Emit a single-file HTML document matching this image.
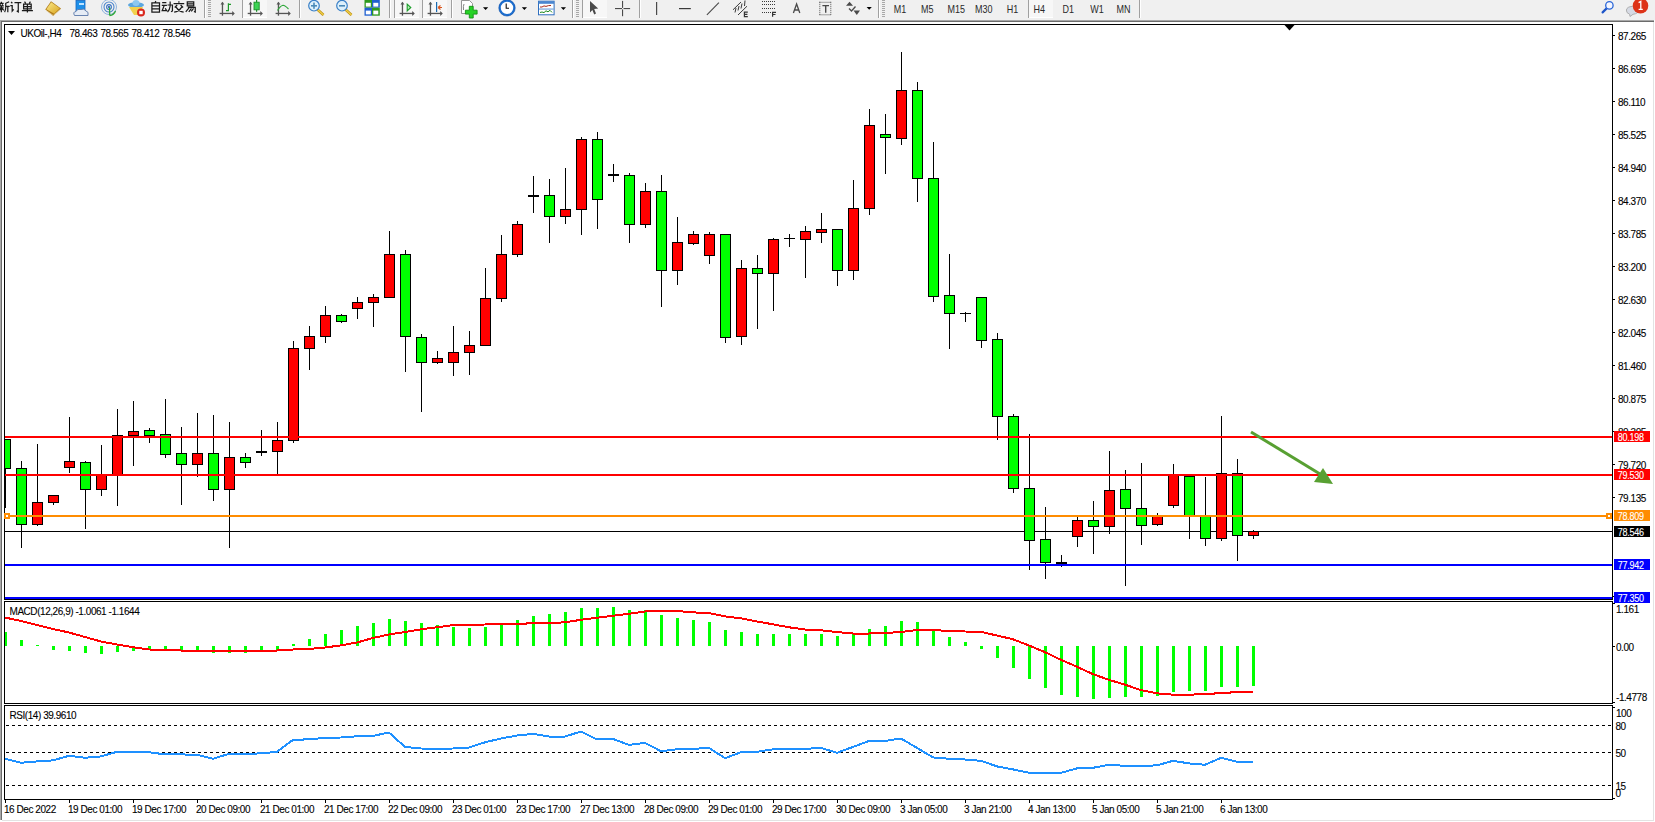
<!DOCTYPE html>
<html><head><meta charset="utf-8"><style>
html,body{margin:0;padding:0;width:1655px;height:822px;overflow:hidden;background:#FFFFFF;font-family:"Liberation Sans",sans-serif;}
#wrap{position:relative;width:1655px;height:822px;}
svg{position:absolute;left:0;top:0}
.t{position:absolute;white-space:nowrap;line-height:9px;font-size:9px;letter-spacing:-0.45px;margin-top:0px;transform:scaleY(1.12);transform-origin:0 0;-webkit-text-stroke:0.1px currentColor}
.box{position:absolute;left:1614px;width:36px;height:11px;color:#FFF;font-size:9px;line-height:9px;letter-spacing:-0.25px}
.box span{position:absolute;left:3.8px;top:2px;transform:scaleY(1.12);transform-origin:0 0;-webkit-text-stroke:0.1px #FFF}
</style></head><body><div id="wrap">
<svg width="1655" height="822" viewBox="0 0 1655 822">
<rect x="0" y="0" width="1655" height="20" fill="#F0F0F0"/>
<rect x="0" y="20" width="1654" height="1" fill="#A8A8A8"/>
<rect x="1" y="21" width="1653" height="1" fill="#6B6B6B"/>
<rect x="0" y="21" width="1" height="799" fill="#A8A8A8"/>
<rect x="1" y="22" width="1" height="798" fill="#6B6B6B"/>
<rect x="1653" y="22" width="1" height="799" fill="#E3E3E3"/>
<rect x="2" y="820" width="1652" height="1" fill="#E3E3E3"/>
<rect x="0" y="821" width="1655" height="1" fill="#FFFFFF"/>
<rect x="2" y="22" width="1651" height="798" fill="#FFFFFF"/>
<defs><clipPath id="cm"><rect x="5" y="25" width="1607" height="574"/></clipPath><clipPath id="cmacd"><rect x="5" y="602" width="1607" height="101"/></clipPath><clipPath id="crsi"><rect x="5" y="706" width="1607" height="93"/></clipPath></defs>
<g clip-path="url(#cm)">
<rect x="5" y="531" width="1607" height="1" fill="#000000"/>
<rect x="5" y="439" width="1" height="69" fill="#000"/>
<rect x="0" y="439" width="11" height="30" fill="#000"/>
<rect x="1" y="440" width="9" height="28" fill="#00FF00"/>
<rect x="21" y="461" width="1" height="87" fill="#000"/>
<rect x="16" y="468" width="11" height="57" fill="#000"/>
<rect x="17" y="469" width="9" height="55" fill="#00FF00"/>
<rect x="37" y="444" width="1" height="82" fill="#000"/>
<rect x="32" y="502" width="11" height="23" fill="#000"/>
<rect x="33" y="503" width="9" height="21" fill="#FF0000"/>
<rect x="53" y="495" width="1" height="10" fill="#000"/>
<rect x="48" y="495" width="11" height="8" fill="#000"/>
<rect x="49" y="496" width="9" height="6" fill="#FF0000"/>
<rect x="69" y="417" width="1" height="56" fill="#000"/>
<rect x="64" y="461" width="11" height="7" fill="#000"/>
<rect x="65" y="462" width="9" height="5" fill="#FF0000"/>
<rect x="85" y="461" width="1" height="68" fill="#000"/>
<rect x="80" y="462" width="11" height="28" fill="#000"/>
<rect x="81" y="463" width="9" height="26" fill="#00FF00"/>
<rect x="101" y="445" width="1" height="51" fill="#000"/>
<rect x="96" y="474" width="11" height="16" fill="#000"/>
<rect x="97" y="475" width="9" height="14" fill="#FF0000"/>
<rect x="117" y="409" width="1" height="97" fill="#000"/>
<rect x="112" y="435" width="11" height="40" fill="#000"/>
<rect x="113" y="436" width="9" height="38" fill="#FF0000"/>
<rect x="133" y="401" width="1" height="65" fill="#000"/>
<rect x="128" y="431" width="11" height="5" fill="#000"/>
<rect x="129" y="432" width="9" height="3" fill="#FF0000"/>
<rect x="149" y="428" width="1" height="15" fill="#000"/>
<rect x="144" y="430" width="11" height="6" fill="#000"/>
<rect x="145" y="431" width="9" height="4" fill="#00FF00"/>
<rect x="165" y="399" width="1" height="59" fill="#000"/>
<rect x="160" y="434" width="11" height="21" fill="#000"/>
<rect x="161" y="435" width="9" height="19" fill="#00FF00"/>
<rect x="181" y="427" width="1" height="78" fill="#000"/>
<rect x="176" y="453" width="11" height="12" fill="#000"/>
<rect x="177" y="454" width="9" height="10" fill="#00FF00"/>
<rect x="197" y="413" width="1" height="64" fill="#000"/>
<rect x="192" y="453" width="11" height="12" fill="#000"/>
<rect x="193" y="454" width="9" height="10" fill="#FF0000"/>
<rect x="213" y="415" width="1" height="86" fill="#000"/>
<rect x="208" y="453" width="11" height="37" fill="#000"/>
<rect x="209" y="454" width="9" height="35" fill="#00FF00"/>
<rect x="229" y="422" width="1" height="126" fill="#000"/>
<rect x="224" y="457" width="11" height="33" fill="#000"/>
<rect x="225" y="458" width="9" height="31" fill="#FF0000"/>
<rect x="245" y="453" width="1" height="15" fill="#000"/>
<rect x="240" y="457" width="11" height="6" fill="#000"/>
<rect x="241" y="458" width="9" height="4" fill="#00FF00"/>
<rect x="261" y="430" width="1" height="26" fill="#000"/>
<rect x="256" y="451" width="11" height="2" fill="#000"/>
<rect x="277" y="422" width="1" height="52" fill="#000"/>
<rect x="272" y="440" width="11" height="12" fill="#000"/>
<rect x="273" y="441" width="9" height="10" fill="#FF0000"/>
<rect x="293" y="341" width="1" height="102" fill="#000"/>
<rect x="288" y="348" width="11" height="93" fill="#000"/>
<rect x="289" y="349" width="9" height="91" fill="#FF0000"/>
<rect x="309" y="326" width="1" height="44" fill="#000"/>
<rect x="304" y="336" width="11" height="13" fill="#000"/>
<rect x="305" y="337" width="9" height="11" fill="#FF0000"/>
<rect x="325" y="306" width="1" height="37" fill="#000"/>
<rect x="320" y="315" width="11" height="22" fill="#000"/>
<rect x="321" y="316" width="9" height="20" fill="#FF0000"/>
<rect x="341" y="314" width="1" height="9" fill="#000"/>
<rect x="336" y="315" width="11" height="7" fill="#000"/>
<rect x="337" y="316" width="9" height="5" fill="#00FF00"/>
<rect x="357" y="297" width="1" height="22" fill="#000"/>
<rect x="352" y="302" width="11" height="7" fill="#000"/>
<rect x="353" y="303" width="9" height="5" fill="#FF0000"/>
<rect x="373" y="294" width="1" height="33" fill="#000"/>
<rect x="368" y="297" width="11" height="6" fill="#000"/>
<rect x="369" y="298" width="9" height="4" fill="#FF0000"/>
<rect x="389" y="231" width="1" height="67" fill="#000"/>
<rect x="384" y="254" width="11" height="44" fill="#000"/>
<rect x="385" y="255" width="9" height="42" fill="#FF0000"/>
<rect x="405" y="250" width="1" height="122" fill="#000"/>
<rect x="400" y="254" width="11" height="83" fill="#000"/>
<rect x="401" y="255" width="9" height="81" fill="#00FF00"/>
<rect x="421" y="334" width="1" height="78" fill="#000"/>
<rect x="416" y="337" width="11" height="26" fill="#000"/>
<rect x="417" y="338" width="9" height="24" fill="#00FF00"/>
<rect x="437" y="351" width="1" height="13" fill="#000"/>
<rect x="432" y="358" width="11" height="5" fill="#000"/>
<rect x="433" y="359" width="9" height="3" fill="#FF0000"/>
<rect x="453" y="326" width="1" height="50" fill="#000"/>
<rect x="448" y="352" width="11" height="11" fill="#000"/>
<rect x="449" y="353" width="9" height="9" fill="#FF0000"/>
<rect x="469" y="331" width="1" height="44" fill="#000"/>
<rect x="464" y="345" width="11" height="8" fill="#000"/>
<rect x="465" y="346" width="9" height="6" fill="#FF0000"/>
<rect x="485" y="268" width="1" height="78" fill="#000"/>
<rect x="480" y="298" width="11" height="48" fill="#000"/>
<rect x="481" y="299" width="9" height="46" fill="#FF0000"/>
<rect x="501" y="235" width="1" height="67" fill="#000"/>
<rect x="496" y="254" width="11" height="45" fill="#000"/>
<rect x="497" y="255" width="9" height="43" fill="#FF0000"/>
<rect x="517" y="221" width="1" height="36" fill="#000"/>
<rect x="512" y="224" width="11" height="31" fill="#000"/>
<rect x="513" y="225" width="9" height="29" fill="#FF0000"/>
<rect x="533" y="176" width="1" height="37" fill="#000"/>
<rect x="528" y="195" width="11" height="2" fill="#000"/>
<rect x="549" y="179" width="1" height="64" fill="#000"/>
<rect x="544" y="195" width="11" height="22" fill="#000"/>
<rect x="545" y="196" width="9" height="20" fill="#00FF00"/>
<rect x="565" y="168" width="1" height="56" fill="#000"/>
<rect x="560" y="209" width="11" height="8" fill="#000"/>
<rect x="561" y="210" width="9" height="6" fill="#FF0000"/>
<rect x="581" y="137" width="1" height="98" fill="#000"/>
<rect x="576" y="139" width="11" height="71" fill="#000"/>
<rect x="577" y="140" width="9" height="69" fill="#FF0000"/>
<rect x="597" y="132" width="1" height="97" fill="#000"/>
<rect x="592" y="139" width="11" height="61" fill="#000"/>
<rect x="593" y="140" width="9" height="59" fill="#00FF00"/>
<rect x="613" y="164" width="1" height="18" fill="#000"/>
<rect x="608" y="174" width="11" height="2" fill="#000"/>
<rect x="629" y="173" width="1" height="70" fill="#000"/>
<rect x="624" y="175" width="11" height="50" fill="#000"/>
<rect x="625" y="176" width="9" height="48" fill="#00FF00"/>
<rect x="645" y="183" width="1" height="45" fill="#000"/>
<rect x="640" y="191" width="11" height="34" fill="#000"/>
<rect x="641" y="192" width="9" height="32" fill="#FF0000"/>
<rect x="661" y="175" width="1" height="132" fill="#000"/>
<rect x="656" y="191" width="11" height="80" fill="#000"/>
<rect x="657" y="192" width="9" height="78" fill="#00FF00"/>
<rect x="677" y="217" width="1" height="68" fill="#000"/>
<rect x="672" y="242" width="11" height="29" fill="#000"/>
<rect x="673" y="243" width="9" height="27" fill="#FF0000"/>
<rect x="693" y="231" width="1" height="14" fill="#000"/>
<rect x="688" y="234" width="11" height="10" fill="#000"/>
<rect x="689" y="235" width="9" height="8" fill="#FF0000"/>
<rect x="709" y="232" width="1" height="32" fill="#000"/>
<rect x="704" y="234" width="11" height="22" fill="#000"/>
<rect x="705" y="235" width="9" height="20" fill="#FF0000"/>
<rect x="725" y="234" width="1" height="109" fill="#000"/>
<rect x="720" y="234" width="11" height="104" fill="#000"/>
<rect x="721" y="235" width="9" height="102" fill="#00FF00"/>
<rect x="741" y="260" width="1" height="85" fill="#000"/>
<rect x="736" y="268" width="11" height="69" fill="#000"/>
<rect x="737" y="269" width="9" height="67" fill="#FF0000"/>
<rect x="757" y="255" width="1" height="74" fill="#000"/>
<rect x="752" y="268" width="11" height="6" fill="#000"/>
<rect x="753" y="269" width="9" height="4" fill="#00FF00"/>
<rect x="773" y="238" width="1" height="73" fill="#000"/>
<rect x="768" y="239" width="11" height="35" fill="#000"/>
<rect x="769" y="240" width="9" height="33" fill="#FF0000"/>
<rect x="789" y="234" width="1" height="13" fill="#000"/>
<rect x="784" y="238" width="11" height="1" fill="#000"/>
<rect x="805" y="226" width="1" height="52" fill="#000"/>
<rect x="800" y="231" width="11" height="9" fill="#000"/>
<rect x="801" y="232" width="9" height="7" fill="#FF0000"/>
<rect x="821" y="213" width="1" height="30" fill="#000"/>
<rect x="816" y="229" width="11" height="4" fill="#000"/>
<rect x="817" y="230" width="9" height="2" fill="#FF0000"/>
<rect x="837" y="229" width="1" height="57" fill="#000"/>
<rect x="832" y="229" width="11" height="42" fill="#000"/>
<rect x="833" y="230" width="9" height="40" fill="#00FF00"/>
<rect x="853" y="180" width="1" height="100" fill="#000"/>
<rect x="848" y="208" width="11" height="63" fill="#000"/>
<rect x="849" y="209" width="9" height="61" fill="#FF0000"/>
<rect x="869" y="109" width="1" height="106" fill="#000"/>
<rect x="864" y="125" width="11" height="84" fill="#000"/>
<rect x="865" y="126" width="9" height="82" fill="#FF0000"/>
<rect x="885" y="114" width="1" height="60" fill="#000"/>
<rect x="880" y="134" width="11" height="4" fill="#000"/>
<rect x="881" y="135" width="9" height="2" fill="#00FF00"/>
<rect x="901" y="52" width="1" height="93" fill="#000"/>
<rect x="896" y="90" width="11" height="49" fill="#000"/>
<rect x="897" y="91" width="9" height="47" fill="#FF0000"/>
<rect x="917" y="82" width="1" height="120" fill="#000"/>
<rect x="912" y="90" width="11" height="89" fill="#000"/>
<rect x="913" y="91" width="9" height="87" fill="#00FF00"/>
<rect x="933" y="142" width="1" height="160" fill="#000"/>
<rect x="928" y="178" width="11" height="119" fill="#000"/>
<rect x="929" y="179" width="9" height="117" fill="#00FF00"/>
<rect x="949" y="254" width="1" height="95" fill="#000"/>
<rect x="944" y="295" width="11" height="19" fill="#000"/>
<rect x="945" y="296" width="9" height="17" fill="#00FF00"/>
<rect x="965" y="312" width="1" height="10" fill="#000"/>
<rect x="960" y="313" width="11" height="1" fill="#000"/>
<rect x="981" y="297" width="1" height="51" fill="#000"/>
<rect x="976" y="297" width="11" height="44" fill="#000"/>
<rect x="977" y="298" width="9" height="42" fill="#00FF00"/>
<rect x="997" y="333" width="1" height="107" fill="#000"/>
<rect x="992" y="339" width="11" height="78" fill="#000"/>
<rect x="993" y="340" width="9" height="76" fill="#00FF00"/>
<rect x="1013" y="414" width="1" height="79" fill="#000"/>
<rect x="1008" y="416" width="11" height="73" fill="#000"/>
<rect x="1009" y="417" width="9" height="71" fill="#00FF00"/>
<rect x="1029" y="434" width="1" height="136" fill="#000"/>
<rect x="1024" y="488" width="11" height="53" fill="#000"/>
<rect x="1025" y="489" width="9" height="51" fill="#00FF00"/>
<rect x="1045" y="507" width="1" height="72" fill="#000"/>
<rect x="1040" y="539" width="11" height="24" fill="#000"/>
<rect x="1041" y="540" width="9" height="22" fill="#00FF00"/>
<rect x="1061" y="555" width="1" height="12" fill="#000"/>
<rect x="1056" y="562" width="11" height="2" fill="#000"/>
<rect x="1077" y="517" width="1" height="30" fill="#000"/>
<rect x="1072" y="520" width="11" height="17" fill="#000"/>
<rect x="1073" y="521" width="9" height="15" fill="#FF0000"/>
<rect x="1093" y="501" width="1" height="53" fill="#000"/>
<rect x="1088" y="520" width="11" height="7" fill="#000"/>
<rect x="1089" y="521" width="9" height="5" fill="#00FF00"/>
<rect x="1109" y="451" width="1" height="83" fill="#000"/>
<rect x="1104" y="490" width="11" height="37" fill="#000"/>
<rect x="1105" y="491" width="9" height="35" fill="#FF0000"/>
<rect x="1125" y="470" width="1" height="116" fill="#000"/>
<rect x="1120" y="489" width="11" height="20" fill="#000"/>
<rect x="1121" y="490" width="9" height="18" fill="#00FF00"/>
<rect x="1141" y="463" width="1" height="82" fill="#000"/>
<rect x="1136" y="508" width="11" height="18" fill="#000"/>
<rect x="1137" y="509" width="9" height="16" fill="#00FF00"/>
<rect x="1157" y="513" width="1" height="13" fill="#000"/>
<rect x="1152" y="516" width="11" height="9" fill="#000"/>
<rect x="1153" y="517" width="9" height="7" fill="#FF0000"/>
<rect x="1173" y="464" width="1" height="44" fill="#000"/>
<rect x="1168" y="474" width="11" height="32" fill="#000"/>
<rect x="1169" y="475" width="9" height="30" fill="#FF0000"/>
<rect x="1189" y="476" width="1" height="63" fill="#000"/>
<rect x="1184" y="476" width="11" height="40" fill="#000"/>
<rect x="1185" y="477" width="9" height="38" fill="#00FF00"/>
<rect x="1205" y="477" width="1" height="69" fill="#000"/>
<rect x="1200" y="516" width="11" height="23" fill="#000"/>
<rect x="1201" y="517" width="9" height="21" fill="#00FF00"/>
<rect x="1221" y="416" width="1" height="125" fill="#000"/>
<rect x="1216" y="473" width="11" height="66" fill="#000"/>
<rect x="1217" y="474" width="9" height="64" fill="#FF0000"/>
<rect x="1237" y="459" width="1" height="102" fill="#000"/>
<rect x="1232" y="473" width="11" height="63" fill="#000"/>
<rect x="1233" y="474" width="9" height="61" fill="#00FF00"/>
<rect x="1253" y="530" width="1" height="9" fill="#000"/>
<rect x="1248" y="531" width="11" height="5" fill="#000"/>
<rect x="1249" y="532" width="9" height="3" fill="#FF0000"/>
<rect x="5" y="436" width="1607" height="2" fill="#FF0000"/>
<rect x="5" y="474" width="1607" height="2" fill="#FF0000"/>
<rect x="5" y="515" width="1601" height="2" fill="#FF8C00"/>
<rect x="5" y="564" width="1607" height="2" fill="#0000FF"/>
<rect x="5" y="597" width="1607" height="2" fill="#0000FF"/>
<line x1="1251" y1="432" x2="1320" y2="474" stroke="#58A032" stroke-width="3"/>
<polygon points="1333,484 1314,482 1323,468" fill="#58A032"/>
</g>
<polygon points="1284.5,25 1294.5,25 1289.5,30.5" fill="#000"/>
<polygon points="8,31 15,31 11.5,35" fill="#000"/>
<g clip-path="url(#cmacd)">
<rect x="4" y="632" width="3" height="14" fill="#00FF00"/>
<rect x="20" y="640" width="3" height="6" fill="#00FF00"/>
<rect x="36" y="645" width="3" height="1" fill="#00FF00"/>
<rect x="52" y="646" width="3" height="4" fill="#00FF00"/>
<rect x="68" y="646" width="3" height="5" fill="#00FF00"/>
<rect x="84" y="646" width="3" height="7" fill="#00FF00"/>
<rect x="100" y="646" width="3" height="8" fill="#00FF00"/>
<rect x="116" y="646" width="3" height="6" fill="#00FF00"/>
<rect x="132" y="646" width="3" height="5" fill="#00FF00"/>
<rect x="148" y="646" width="3" height="3" fill="#00FF00"/>
<rect x="164" y="646" width="3" height="4" fill="#00FF00"/>
<rect x="180" y="646" width="3" height="4" fill="#00FF00"/>
<rect x="196" y="646" width="3" height="4" fill="#00FF00"/>
<rect x="212" y="646" width="3" height="7" fill="#00FF00"/>
<rect x="228" y="646" width="3" height="7" fill="#00FF00"/>
<rect x="244" y="646" width="3" height="7" fill="#00FF00"/>
<rect x="260" y="646" width="3" height="4" fill="#00FF00"/>
<rect x="276" y="646" width="3" height="4" fill="#00FF00"/>
<rect x="292" y="644" width="3" height="2" fill="#00FF00"/>
<rect x="308" y="639" width="3" height="7" fill="#00FF00"/>
<rect x="324" y="634" width="3" height="12" fill="#00FF00"/>
<rect x="340" y="630" width="3" height="16" fill="#00FF00"/>
<rect x="356" y="626" width="3" height="20" fill="#00FF00"/>
<rect x="372" y="623" width="3" height="23" fill="#00FF00"/>
<rect x="388" y="619" width="3" height="27" fill="#00FF00"/>
<rect x="404" y="621" width="3" height="25" fill="#00FF00"/>
<rect x="420" y="623" width="3" height="23" fill="#00FF00"/>
<rect x="436" y="625" width="3" height="21" fill="#00FF00"/>
<rect x="452" y="627" width="3" height="19" fill="#00FF00"/>
<rect x="468" y="628" width="3" height="18" fill="#00FF00"/>
<rect x="484" y="627" width="3" height="19" fill="#00FF00"/>
<rect x="500" y="625" width="3" height="21" fill="#00FF00"/>
<rect x="516" y="620" width="3" height="26" fill="#00FF00"/>
<rect x="532" y="616" width="3" height="30" fill="#00FF00"/>
<rect x="548" y="614" width="3" height="32" fill="#00FF00"/>
<rect x="564" y="612" width="3" height="34" fill="#00FF00"/>
<rect x="580" y="608" width="3" height="38" fill="#00FF00"/>
<rect x="596" y="608" width="3" height="38" fill="#00FF00"/>
<rect x="612" y="607" width="3" height="39" fill="#00FF00"/>
<rect x="628" y="610" width="3" height="36" fill="#00FF00"/>
<rect x="644" y="610" width="3" height="36" fill="#00FF00"/>
<rect x="660" y="615" width="3" height="31" fill="#00FF00"/>
<rect x="676" y="618" width="3" height="28" fill="#00FF00"/>
<rect x="692" y="620" width="3" height="26" fill="#00FF00"/>
<rect x="708" y="622" width="3" height="24" fill="#00FF00"/>
<rect x="724" y="630" width="3" height="16" fill="#00FF00"/>
<rect x="740" y="632" width="3" height="14" fill="#00FF00"/>
<rect x="756" y="634" width="3" height="12" fill="#00FF00"/>
<rect x="772" y="634" width="3" height="12" fill="#00FF00"/>
<rect x="788" y="634" width="3" height="12" fill="#00FF00"/>
<rect x="804" y="634" width="3" height="12" fill="#00FF00"/>
<rect x="820" y="634" width="3" height="12" fill="#00FF00"/>
<rect x="836" y="636" width="3" height="10" fill="#00FF00"/>
<rect x="852" y="634" width="3" height="12" fill="#00FF00"/>
<rect x="868" y="629" width="3" height="17" fill="#00FF00"/>
<rect x="884" y="626" width="3" height="20" fill="#00FF00"/>
<rect x="900" y="621" width="3" height="25" fill="#00FF00"/>
<rect x="916" y="622" width="3" height="24" fill="#00FF00"/>
<rect x="932" y="630" width="3" height="16" fill="#00FF00"/>
<rect x="948" y="637" width="3" height="9" fill="#00FF00"/>
<rect x="964" y="642" width="3" height="4" fill="#00FF00"/>
<rect x="980" y="646" width="3" height="3" fill="#00FF00"/>
<rect x="996" y="646" width="3" height="12" fill="#00FF00"/>
<rect x="1012" y="646" width="3" height="22" fill="#00FF00"/>
<rect x="1028" y="646" width="3" height="33" fill="#00FF00"/>
<rect x="1044" y="646" width="3" height="42" fill="#00FF00"/>
<rect x="1060" y="646" width="3" height="49" fill="#00FF00"/>
<rect x="1076" y="646" width="3" height="51" fill="#00FF00"/>
<rect x="1092" y="646" width="3" height="53" fill="#00FF00"/>
<rect x="1108" y="646" width="3" height="52" fill="#00FF00"/>
<rect x="1124" y="646" width="3" height="51" fill="#00FF00"/>
<rect x="1140" y="646" width="3" height="51" fill="#00FF00"/>
<rect x="1156" y="646" width="3" height="50" fill="#00FF00"/>
<rect x="1172" y="646" width="3" height="46" fill="#00FF00"/>
<rect x="1188" y="646" width="3" height="45" fill="#00FF00"/>
<rect x="1204" y="646" width="3" height="45" fill="#00FF00"/>
<rect x="1220" y="646" width="3" height="41" fill="#00FF00"/>
<rect x="1236" y="646" width="3" height="41" fill="#00FF00"/>
<rect x="1252" y="646" width="3" height="40" fill="#00FF00"/>
<polyline points="4,617 5,617.5 21,621 37,625 53,629 69,632.5 85,637 101,641.5 117,644.5 133,647.2 149,649.5 165,649.7 181,650.5 197,650.5 213,650.5 229,650.5 245,650.5 261,650.5 277,650.5 293,649.5 309,649 325,647.5 341,645.4 357,642.5 373,638 389,634.5 405,632 421,629.3 437,627.3 453,625.1 469,624.7 485,624.5 501,624.3 517,623.8 533,623.3 549,623.1 565,622.3 581,619.8 597,617.8 613,615.7 629,613.8 645,611.5 661,610.6 677,611 693,612.4 709,613 725,616.4 741,618.3 757,621.5 773,624.3 789,627.3 805,629.5 821,630.3 837,632 853,633.5 869,633.5 885,633 901,632 917,630 933,630 949,631 965,631.5 981,631.9 997,635.5 1013,639.3 1029,645.5 1045,652.2 1061,659.8 1077,666.8 1093,674.2 1109,679.8 1125,684.7 1141,690.1 1157,693.3 1173,694.7 1189,694.7 1205,694.1 1221,693.1 1237,692.1 1253,691.7" fill="none" stroke="#FF0000" stroke-width="2" shape-rendering="crispEdges"/>
</g>
<g clip-path="url(#crsi)">
<line x1="1611" y1="725.5" x2="0" y2="725.5" stroke="#000" stroke-width="1" stroke-dasharray="3,3"/>
<line x1="1611" y1="752.5" x2="0" y2="752.5" stroke="#000" stroke-width="1" stroke-dasharray="3,3"/>
<line x1="1611" y1="785.5" x2="0" y2="785.5" stroke="#000" stroke-width="1" stroke-dasharray="3,3"/>
<polyline points="5,758.8 21,762.8 37,761.4 53,760.4 69,755.8 85,757.8 101,756.4 117,751.8 133,751.8 149,752.2 165,754.4 181,754.4 197,754.8 213,758.8 229,753.8 245,753.8 261,753.4 277,751.8 293,739.9 309,739.3 325,737.9 341,737.5 357,736.3 373,735.9 389,732.5 405,746.9 421,748.5 437,748.9 453,748.5 469,747.5 485,742.3 501,738.5 517,735.5 533,733.9 549,736.5 565,736.5 581,731.5 597,739.5 613,738.9 629,744.9 645,742.9 661,751.2 677,749.3 693,748.9 709,747.9 725,758.2 741,752.2 757,751.8 773,749.3 789,748.9 805,748.9 821,747.9 837,752.8 853,746.9 869,740.9 885,740.9 901,738.5 917,747.9 933,757.4 949,758.8 965,759.5 981,760.8 997,766.4 1013,769.4 1029,772.8 1045,772.8 1061,772.8 1077,768.4 1093,767.8 1109,764.8 1125,765.8 1141,765.8 1157,765.4 1173,760.8 1189,763.4 1205,764.8 1221,757.8 1237,761.8 1253,762.2" fill="none" stroke="#1E90FF" stroke-width="2" stroke-linejoin="round" shape-rendering="crispEdges"/>
</g>
<rect x="4" y="24" width="1609" height="1" fill="#000"/>
<rect x="4" y="599" width="1609" height="1" fill="#000"/>
<rect x="4" y="601" width="1609" height="1" fill="#000"/>
<rect x="4" y="703" width="1609" height="1" fill="#000"/>
<rect x="4" y="705" width="1609" height="1" fill="#000"/>
<rect x="4" y="799" width="1609" height="1" fill="#000"/>
<rect x="4" y="24" width="1" height="576" fill="#000"/>
<rect x="1612" y="24" width="1" height="576" fill="#000"/>
<rect x="4" y="601" width="1" height="103" fill="#000"/>
<rect x="1612" y="601" width="1" height="103" fill="#000"/>
<rect x="4" y="705" width="1" height="95" fill="#000"/>
<rect x="1612" y="705" width="1" height="95" fill="#000"/>
<rect x="4" y="513" width="6" height="6" fill="#FF8C00"/>
<rect x="6" y="515" width="2" height="2" fill="#FFFFFF"/>
<rect x="1606" y="513" width="6" height="6" fill="#FF8C00"/>
<rect x="1608" y="515" width="2" height="2" fill="#FFFFFF"/>
<rect x="1613" y="35" width="2" height="1" fill="#000"/>
<rect x="1613" y="68" width="2" height="1" fill="#000"/>
<rect x="1613" y="101" width="2" height="1" fill="#000"/>
<rect x="1613" y="134" width="2" height="1" fill="#000"/>
<rect x="1613" y="167" width="2" height="1" fill="#000"/>
<rect x="1613" y="200" width="2" height="1" fill="#000"/>
<rect x="1613" y="233" width="2" height="1" fill="#000"/>
<rect x="1613" y="266" width="2" height="1" fill="#000"/>
<rect x="1613" y="299" width="2" height="1" fill="#000"/>
<rect x="1613" y="332" width="2" height="1" fill="#000"/>
<rect x="1613" y="365" width="2" height="1" fill="#000"/>
<rect x="1613" y="398" width="2" height="1" fill="#000"/>
<rect x="1613" y="431" width="2" height="1" fill="#000"/>
<rect x="1613" y="464" width="2" height="1" fill="#000"/>
<rect x="1613" y="497" width="2" height="1" fill="#000"/>
<rect x="1613" y="596" width="2" height="1" fill="#000"/>
<rect x="1613" y="603" width="2" height="1" fill="#000"/>
<rect x="1613" y="646" width="2" height="1" fill="#000"/>
<rect x="1613" y="702" width="2" height="1" fill="#000"/>
<rect x="1613" y="707" width="2" height="1" fill="#000"/>
<rect x="1613" y="798" width="2" height="1" fill="#000"/>
<rect x="5" y="800" width="1" height="3" fill="#000"/>
<rect x="69" y="800" width="1" height="3" fill="#000"/>
<rect x="133" y="800" width="1" height="3" fill="#000"/>
<rect x="197" y="800" width="1" height="3" fill="#000"/>
<rect x="261" y="800" width="1" height="3" fill="#000"/>
<rect x="325" y="800" width="1" height="3" fill="#000"/>
<rect x="389" y="800" width="1" height="3" fill="#000"/>
<rect x="453" y="800" width="1" height="3" fill="#000"/>
<rect x="517" y="800" width="1" height="3" fill="#000"/>
<rect x="581" y="800" width="1" height="3" fill="#000"/>
<rect x="645" y="800" width="1" height="3" fill="#000"/>
<rect x="709" y="800" width="1" height="3" fill="#000"/>
<rect x="773" y="800" width="1" height="3" fill="#000"/>
<rect x="837" y="800" width="1" height="3" fill="#000"/>
<rect x="901" y="800" width="1" height="3" fill="#000"/>
<rect x="965" y="800" width="1" height="3" fill="#000"/>
<rect x="1029" y="800" width="1" height="3" fill="#000"/>
<rect x="1093" y="800" width="1" height="3" fill="#000"/>
<rect x="1157" y="800" width="1" height="3" fill="#000"/>
<rect x="1221" y="800" width="1" height="3" fill="#000"/>
<path transform="translate(-1.5,1.2) scale(0.95)" d="M3,0.5V1.6 M0.6,2.2H5.4 M1.6,3.2L2.1,4.2 M4.4,3.2L3.9,4.2 M0.4,4.8H5.6 M0.6,7H5.4 M3,4.8V11.6 M3,7.2L0.4,10.4 M3,7.4L5.6,9.6 M11.2,0.6L7.6,2.2V7.2Q7.4,10 6.4,11.4 M7.6,5.4H11.8 M9.8,5.4V11.6" fill="none" stroke="#1a1a1a" stroke-width="1.3"/><path transform="translate(10.1,1.2) scale(0.95)" d="M1,0.8L2.4,2.2 M0.2,4.6H2.2V10.4L3.8,8.6 M4.6,1.6H11.8 M8.6,1.6V11.2L7,10.2" fill="none" stroke="#1a1a1a" stroke-width="1.3"/><path transform="translate(21.7,1.2) scale(0.95)" d="M3,0.4L4.2,2.2 M9.2,0.4L8,2.2 M2,3H10V8.2H2Z M2,5.6H10 M6,3V11.8 M0.2,9.8H11.8" fill="none" stroke="#1a1a1a" stroke-width="1.3"/>
<defs><linearGradient id="bk" x1="0" y1="0" x2="1" y2="1"><stop offset="0" stop-color="#FBEA8A"/><stop offset="1" stop-color="#D9A420"/></linearGradient></defs><g><polygon points="45.3,9.6 51,1.2 61,8.6 53.2,16" fill="#B07A18"/><polygon points="46.3,9.2 51.2,2.2 59.8,8.3 54.2,13.8" fill="url(#bk)"/><path d="M46,10.4 L53.2,15.4 L60.6,9.4" stroke="#E8D8A8" stroke-width="0.7" fill="none"/></g>
<g transform="translate(73,0)"><rect x="3" y="0.5" width="9" height="11" fill="#1E8FE8" stroke="#1565C0" stroke-width="0.8"/><rect x="6" y="3" width="5" height="2" fill="#BFE3FF"/><path d="M1.5,15.5 Q-0.5,12 3,11.5 Q4,8.5 8,9.5 Q11,8 13,11 Q16,11.5 15,15.5Z" fill="#E6ECF5" stroke="#5A77A8" stroke-width="0.9"/></g>
<g transform="translate(109,7)"><circle r="7.5" fill="none" stroke="#8EB3DE" stroke-width="1"/><circle r="5" fill="none" stroke="#4F86CC" stroke-width="1.1"/><circle r="2.4" fill="none" stroke="#3A74C4" stroke-width="1.1"/><circle r="1.1" fill="#2456B0"/><path d="M0.6,0.5V8.5 M0.6,8.5 Q5,8 6.5,4" stroke="#2FA83A" stroke-width="1.3" fill="none"/></g>
<g transform="translate(128,0)"><ellipse cx="8" cy="5" rx="8" ry="2.8" fill="#5BA6DE"/><ellipse cx="8" cy="3" rx="3.5" ry="3" fill="#8CC8F0"/><polygon points="1,7 15,7 11,15 6,15" fill="#F1D14C"/><circle cx="13" cy="12.5" r="4" fill="#D9261C"/><rect x="11.3" y="10.8" width="3.4" height="3.4" fill="#FFF"/></g>
<path transform="translate(150.0,1.2) scale(0.95)" d="M6.2,0L5.2,1.6 M2,1.8H10V11.6H2Z M2,4.9H10 M2,8.2H10" fill="none" stroke="#1a1a1a" stroke-width="1.3"/><path transform="translate(161.6,1.2) scale(0.95)" d="M0.6,1.4H5 M0.2,4.4H5.6 M2.8,4.4L0.6,10H5.2 M3.8,7.4L5.6,10.4 M6.2,4H11.4V10.2L10,11.2 M9,0.4V5Q8.6,9 6.2,11.4" fill="none" stroke="#1a1a1a" stroke-width="1.3"/><path transform="translate(173.2,1.2) scale(0.95)" d="M6,0V1.6 M0.4,2.6H11.6 M4.2,4L1.6,6.6 M7.8,4L10.4,6.6 M3,6.2Q6,10.8 11,11.6 M9,6.2Q6,10.8 1,11.6" fill="none" stroke="#1a1a1a" stroke-width="1.3"/><path transform="translate(184.8,1.2) scale(0.95)" d="M2.6,0.6H9.4V5H2.6Z M2.6,2.8H9.4 M3.2,6.6H11V11.4L9.6,10.8 M4.8,6.6L1,11.2 M7,7.6L4.2,11.2 M9.2,7.6L6.8,10.8" fill="none" stroke="#1a1a1a" stroke-width="1.3"/>
<rect x="204" y="0" width="1" height="18" fill="#A0A0A0"/>
<rect x="205" y="0" width="1" height="18" fill="#FFFFFF"/>
<rect x="208" y="0" width="3" height="1" fill="#A8A8A8"/>
<rect x="208" y="2" width="3" height="1" fill="#A8A8A8"/>
<rect x="208" y="4" width="3" height="1" fill="#A8A8A8"/>
<rect x="208" y="6" width="3" height="1" fill="#A8A8A8"/>
<rect x="208" y="8" width="3" height="1" fill="#A8A8A8"/>
<rect x="208" y="10" width="3" height="1" fill="#A8A8A8"/>
<rect x="208" y="12" width="3" height="1" fill="#A8A8A8"/>
<rect x="208" y="14" width="3" height="1" fill="#A8A8A8"/>
<rect x="208" y="16" width="3" height="1" fill="#A8A8A8"/>
<g fill="#555" stroke="none"><rect x="221.8" y="2.5" width="1.3" height="13.2"/><rect x="219.60000000000002" y="12.8" width="13.6" height="1.3"/><polygon points="220.5,4.5 222.45000000000002,1.8 224.4,4.5"/><polygon points="232.20000000000002,11 234.8,13.45 232.20000000000002,15.9"/></g>
<path d="M226,10.6H228.4V3.2 M228.4,4.4H231" stroke="#1D9A2A" stroke-width="1.2" fill="none"/>
<rect x="242" y="0" width="1" height="18" fill="#A0A0A0"/>
<rect x="243" y="0" width="1" height="18" fill="#FFFFFF"/>
<rect x="243" y="0" width="24" height="18" fill="#F7F7F7"/>
<rect x="243" y="17" width="24" height="1" fill="#FFFFFF"/>
<g fill="#555" stroke="none"><rect x="249.9" y="2.5" width="1.3" height="13.2"/><rect x="247.70000000000002" y="12.8" width="13.6" height="1.3"/><polygon points="248.6,4.5 250.55,1.8 252.5,4.5"/><polygon points="260.3,11 262.9,13.45 260.3,15.9"/></g>
<rect x="256" y="0" width="1.2" height="11.8" fill="#1D8F2A"/><rect x="254" y="2.2" width="5.2" height="7.6" fill="#3DD354" stroke="#1D8F2A" stroke-width="0.9"/>
<g fill="#555" stroke="none"><rect x="277.8" y="2.5" width="1.3" height="13.2"/><rect x="275.6" y="12.8" width="13.6" height="1.3"/><polygon points="276.5,4.5 278.45,1.8 280.40000000000003,4.5"/><polygon points="288.2,11 290.8,13.45 288.2,15.9"/></g>
<path d="M277.5,10.6 Q280,6 283,5.2 Q285,5.4 288.5,9" stroke="#2EA83A" stroke-width="1.1" fill="none"/>
<rect x="299" y="0" width="1" height="18" fill="#A0A0A0"/>
<rect x="300" y="0" width="1" height="18" fill="#FFFFFF"/>
<g><line x1="317.5" y1="9.5" x2="323.5" y2="15" stroke="#B88A10" stroke-width="2.6"/><line x1="317.5" y1="9.5" x2="323.5" y2="15" stroke="#F0D048" stroke-width="1.4"/><circle cx="314" cy="5.7" r="5.3" fill="#DDF0FB" stroke="#3A80C8" stroke-width="1.2"/><rect x="311" y="5" width="6" height="1.6" fill="#4A8AB8"/><rect x="313.2" y="2.6" width="1.6" height="6.2" fill="#4A8AB8"/></g>
<g><line x1="345.5" y1="9.5" x2="351.5" y2="15" stroke="#B88A10" stroke-width="2.6"/><line x1="345.5" y1="9.5" x2="351.5" y2="15" stroke="#F0D048" stroke-width="1.4"/><circle cx="342" cy="5.7" r="5.3" fill="#DDF0FB" stroke="#3A80C8" stroke-width="1.2"/><rect x="339" y="5" width="6" height="1.6" fill="#4A8AB8"/></g>
<g><rect x="364.5" y="0" width="7.5" height="7.7" fill="#2E9A1E"/><rect x="372" y="0" width="7.8" height="7.7" fill="#1F5FD0"/><rect x="364.5" y="7.7" width="7.5" height="8" fill="#1F5FD0"/><rect x="372" y="7.7" width="7.8" height="8" fill="#2E9A1E"/><rect x="365.8" y="2.8" width="5" height="3.8" fill="#FFF"/><rect x="373.3" y="2.8" width="5" height="3.8" fill="#FFF"/><rect x="365.8" y="10.6" width="5" height="3.8" fill="#FFF"/><rect x="373.3" y="10.6" width="5" height="3.8" fill="#FFF"/></g>
<rect x="389" y="0" width="1" height="18" fill="#A0A0A0"/>
<rect x="390" y="0" width="1" height="18" fill="#FFFFFF"/>
<rect x="394" y="0" width="1" height="18" fill="#A0A0A0"/>
<rect x="395" y="0" width="1" height="18" fill="#FFFFFF"/>
<rect x="395" y="0" width="24" height="18" fill="#F7F7F7"/>
<rect x="395" y="17" width="24" height="1" fill="#FFFFFF"/>
<g fill="#555" stroke="none"><rect x="401.8" y="2.5" width="1.3" height="13.2"/><rect x="399.6" y="12.8" width="13.6" height="1.3"/><polygon points="400.5,4.5 402.45,1.8 404.40000000000003,4.5"/><polygon points="412.2,11 414.8,13.45 412.2,15.9"/></g>
<polygon points="407.2,4.2 410.8,7.5 407.2,10.9" fill="#B8F0B8" stroke="#1C9E2A" stroke-width="1.1"/>
<rect x="422" y="0" width="1" height="18" fill="#A0A0A0"/>
<rect x="423" y="0" width="1" height="18" fill="#FFFFFF"/>
<rect x="423" y="0" width="24" height="18" fill="#F7F7F7"/>
<rect x="423" y="17" width="24" height="1" fill="#FFFFFF"/>
<g fill="#555" stroke="none"><rect x="429.8" y="2.5" width="1.3" height="13.2"/><rect x="427.6" y="12.8" width="13.6" height="1.3"/><polygon points="428.5,4.5 430.45,1.8 432.40000000000003,4.5"/><polygon points="440.2,11 442.8,13.45 440.2,15.9"/></g>
<rect x="436" y="2" width="1.2" height="10" fill="#1A6AB0"/><path d="M438,7.5H442 M438,7.5L440.5,5.5 M438,7.5L440.5,9.5" stroke="#D9541A" stroke-width="1.2" fill="none"/>
<rect x="451" y="0" width="1" height="18" fill="#A0A0A0"/>
<rect x="452" y="0" width="1" height="18" fill="#FFFFFF"/>
<g><path d="M461.5,0.5H469.5L472.5,3.5V13.5H461.5Z" fill="#FFF" stroke="#8A8A8A" stroke-width="0.9"/><path d="M464,4 Q463,6 463.5,10" stroke="#666" stroke-width="0.8" fill="none"/><path d="M469.3,6.3H473.2V10.2H477.1V14.1H473.2V18H469.3V14.1H465.4V10.2H469.3Z" fill="#25D225" stroke="#129012" stroke-width="0.9"/></g>
<polygon points="483,7.2 488.2,7.2 485.6,10.0" fill="#000"/>
<g><circle cx="507" cy="7.9" r="7.2" fill="#FFFFFF" stroke="#1C6FD0" stroke-width="2"/><circle cx="507" cy="7.9" r="8.2" fill="none" stroke="#0E4FA8" stroke-width="0.6"/><path d="M506.2,3.6V8.2H509" stroke="#111" stroke-width="1.1" fill="none"/><rect x="505.6" y="-1" width="3" height="1.6" fill="#1C6FD0"/></g>
<polygon points="521.8,7.2 527.0,7.2 524.4,10.0" fill="#000"/>
<g><rect x="538.5" y="1.2" width="15.6" height="13.6" fill="#FFF" stroke="#2F6FBF" stroke-width="1"/><rect x="538.5" y="1.2" width="15.6" height="2.6" fill="#4A86D0"/><rect x="539" y="8.6" width="14.6" height="0.9" fill="#4A86D0"/><path d="M540,7 L542,7 L544,5.9 L546,6.4 L548.5,5.6 L551,5.5" stroke="#A8281A" stroke-width="1" fill="none"/><path d="M540,12.5 L542,12 L544,12.6 L546,10.8 L548,11.8 L550,10.3 L552,12.4" stroke="#1E8A1E" stroke-width="1" fill="none"/></g>
<polygon points="560.8,7.2 566.0,7.2 563.4,10.0" fill="#000"/>
<rect x="572" y="0" width="1" height="18" fill="#A0A0A0"/>
<rect x="573" y="0" width="1" height="18" fill="#FFFFFF"/>
<rect x="576" y="0" width="3" height="1" fill="#A8A8A8"/>
<rect x="576" y="2" width="3" height="1" fill="#A8A8A8"/>
<rect x="576" y="4" width="3" height="1" fill="#A8A8A8"/>
<rect x="576" y="6" width="3" height="1" fill="#A8A8A8"/>
<rect x="576" y="8" width="3" height="1" fill="#A8A8A8"/>
<rect x="576" y="10" width="3" height="1" fill="#A8A8A8"/>
<rect x="576" y="12" width="3" height="1" fill="#A8A8A8"/>
<rect x="576" y="14" width="3" height="1" fill="#A8A8A8"/>
<rect x="576" y="16" width="3" height="1" fill="#A8A8A8"/>
<rect x="582" y="0" width="1" height="18" fill="#A0A0A0"/>
<rect x="583" y="0" width="1" height="18" fill="#FFFFFF"/>
<rect x="583" y="0" width="24" height="18" fill="#F7F7F7"/>
<rect x="583" y="17" width="24" height="1" fill="#FFFFFF"/>
<polygon points="590,0.9 598.2,8.6 594.2,8.9 596,13.6 594.2,14.6 592.4,10 590,12.4" fill="#4A4A4A"/>
<g fill="#4A4A4A"><rect x="622" y="0.9" width="1.1" height="7"/><rect x="622" y="9.4" width="1.1" height="6.8"/><rect x="615" y="8" width="7" height="1.1"/><rect x="623.5" y="8" width="6.6" height="1.1"/></g>
<rect x="639" y="0" width="1" height="18" fill="#A0A0A0"/>
<rect x="640" y="0" width="1" height="18" fill="#FFFFFF"/>
<rect x="656" y="2" width="1.2" height="13" fill="#4A4A4A"/>
<rect x="679" y="8" width="11.8" height="1.2" fill="#3A3A3A"/>
<line x1="706.9" y1="14.8" x2="718.9" y2="2.7" stroke="#4A4A4A" stroke-width="1.1"/>
<g stroke="#3A3A3A" stroke-width="1" fill="none"><line x1="733" y1="9.8" x2="741" y2="2"/><line x1="738" y1="15" x2="747" y2="6.2"/><path d="M735,12.5 L736,8 M738,10.5 L739,6 M741,8.5 L742,3.5 M744.5,6 L745,0.5"/></g>
<path d="M747.8,12.2H744.4V16.6H747.8 M744.4,14.4H747.4" stroke="#333" stroke-width="1.2" fill="none"/>
<rect x="762" y="1.0" width="1" height="1" fill="#3A3A3A"/>
<rect x="764" y="1.0" width="1" height="1" fill="#3A3A3A"/>
<rect x="766" y="1.0" width="1" height="1" fill="#3A3A3A"/>
<rect x="768" y="1.0" width="1" height="1" fill="#3A3A3A"/>
<rect x="770" y="1.0" width="1" height="1" fill="#3A3A3A"/>
<rect x="772" y="1.0" width="1" height="1" fill="#3A3A3A"/>
<rect x="774" y="1.0" width="1" height="1" fill="#3A3A3A"/>
<rect x="762" y="4.0" width="1" height="1" fill="#3A3A3A"/>
<rect x="764" y="4.0" width="1" height="1" fill="#3A3A3A"/>
<rect x="766" y="4.0" width="1" height="1" fill="#3A3A3A"/>
<rect x="768" y="4.0" width="1" height="1" fill="#3A3A3A"/>
<rect x="770" y="4.0" width="1" height="1" fill="#3A3A3A"/>
<rect x="772" y="4.0" width="1" height="1" fill="#3A3A3A"/>
<rect x="774" y="4.0" width="1" height="1" fill="#3A3A3A"/>
<rect x="762" y="8.0" width="1" height="1" fill="#3A3A3A"/>
<rect x="764" y="8.0" width="1" height="1" fill="#3A3A3A"/>
<rect x="766" y="8.0" width="1" height="1" fill="#3A3A3A"/>
<rect x="768" y="8.0" width="1" height="1" fill="#3A3A3A"/>
<rect x="770" y="8.0" width="1" height="1" fill="#3A3A3A"/>
<rect x="772" y="8.0" width="1" height="1" fill="#3A3A3A"/>
<rect x="774" y="8.0" width="1" height="1" fill="#3A3A3A"/>
<rect x="762" y="12.0" width="1" height="1" fill="#3A3A3A"/>
<rect x="764" y="12.0" width="1" height="1" fill="#3A3A3A"/>
<rect x="766" y="12.0" width="1" height="1" fill="#3A3A3A"/>
<rect x="768" y="12.0" width="1" height="1" fill="#3A3A3A"/>
<rect x="770" y="12.0" width="1" height="1" fill="#3A3A3A"/>
<path d="M776,12.4H772.6V16.8 M772.6,14.5H775.5" stroke="#333" stroke-width="1.2" fill="none"/>
<path d="M793.4,13 L796.6,4 L799.8,13 M794.6,10H798.6" stroke="#4A4A4A" stroke-width="1.3" fill="none"/>
<rect x="819.5" y="1.8" width="1" height="1" fill="#555"/>
<rect x="819.5" y="14.3" width="1" height="1" fill="#555"/>
<rect x="821.5" y="1.8" width="1" height="1" fill="#555"/>
<rect x="821.5" y="14.3" width="1" height="1" fill="#555"/>
<rect x="823.5" y="1.8" width="1" height="1" fill="#555"/>
<rect x="823.5" y="14.3" width="1" height="1" fill="#555"/>
<rect x="825.5" y="1.8" width="1" height="1" fill="#555"/>
<rect x="825.5" y="14.3" width="1" height="1" fill="#555"/>
<rect x="827.5" y="1.8" width="1" height="1" fill="#555"/>
<rect x="827.5" y="14.3" width="1" height="1" fill="#555"/>
<rect x="829.5" y="1.8" width="1" height="1" fill="#555"/>
<rect x="829.5" y="14.3" width="1" height="1" fill="#555"/>
<rect x="819.3" y="1.8" width="1" height="1" fill="#555"/>
<rect x="830.3" y="1.8" width="1" height="1" fill="#555"/>
<rect x="819.3" y="3.8" width="1" height="1" fill="#555"/>
<rect x="830.3" y="3.8" width="1" height="1" fill="#555"/>
<rect x="819.3" y="5.8" width="1" height="1" fill="#555"/>
<rect x="830.3" y="5.8" width="1" height="1" fill="#555"/>
<rect x="819.3" y="7.8" width="1" height="1" fill="#555"/>
<rect x="830.3" y="7.8" width="1" height="1" fill="#555"/>
<rect x="819.3" y="9.8" width="1" height="1" fill="#555"/>
<rect x="830.3" y="9.8" width="1" height="1" fill="#555"/>
<rect x="819.3" y="11.8" width="1" height="1" fill="#555"/>
<rect x="830.3" y="11.8" width="1" height="1" fill="#555"/>
<rect x="819.3" y="13.8" width="1" height="1" fill="#555"/>
<rect x="830.3" y="13.8" width="1" height="1" fill="#555"/>
<path d="M822.4,5.6H829 M825.7,5.6V12.7" stroke="#4A4A4A" stroke-width="1.4" fill="none"/>
<polygon points="846,5.8 849.5,1.8 853,5.8" fill="#4A4A4A"/><polygon points="853.5,10.5 860,10.5 856.8,14.9" fill="#4A4A4A"/><path d="M849,8.5 L851.5,11 L855.5,6.5" stroke="#4A4A4A" stroke-width="1.3" fill="none"/>
<polygon points="866.6,6.9 871.8000000000001,6.9 869.2,9.7" fill="#000"/>
<rect x="878" y="0" width="1" height="18" fill="#A0A0A0"/>
<rect x="879" y="0" width="1" height="18" fill="#FFFFFF"/>
<rect x="882" y="0" width="3" height="1" fill="#A8A8A8"/>
<rect x="882" y="2" width="3" height="1" fill="#A8A8A8"/>
<rect x="882" y="4" width="3" height="1" fill="#A8A8A8"/>
<rect x="882" y="6" width="3" height="1" fill="#A8A8A8"/>
<rect x="882" y="8" width="3" height="1" fill="#A8A8A8"/>
<rect x="882" y="10" width="3" height="1" fill="#A8A8A8"/>
<rect x="882" y="12" width="3" height="1" fill="#A8A8A8"/>
<rect x="882" y="14" width="3" height="1" fill="#A8A8A8"/>
<rect x="882" y="16" width="3" height="1" fill="#A8A8A8"/>
<rect x="1029" y="0" width="24" height="18" fill="#F7F7F7"/>
<rect x="1029" y="17" width="24" height="1" fill="#FFFFFF"/>
<rect x="1028" y="0" width="1" height="18" fill="#A0A0A0"/>
<rect x="1139" y="0" width="1" height="18" fill="#A0A0A0"/>
<rect x="1140" y="0" width="1" height="18" fill="#FFFFFF"/>
<g><line x1="1602.6" y1="12.4" x2="1606.4" y2="8.6" stroke="#1E55C8" stroke-width="2.2" stroke-linecap="round"/><circle cx="1609.4" cy="5.4" r="3.7" fill="#F4F6FF" stroke="#2A66D8" stroke-width="1.3"/></g>
<g><path d="M1630,16.5 L1629.6,14.2 Q1626,13 1626.4,10 Q1627,6.6 1632.5,6.4 Q1638,6.6 1638.4,10.2 Q1638.4,13.6 1633,14.3Z" fill="#D6DAE4" stroke="#A8A8A8" stroke-width="0.9"/><circle cx="1640.5" cy="5.8" r="7.8" fill="#DD3318"/><path d="M1638.6,2.6 L1640.8,1.4 V9.2 M1638.6,9.4 H1642.8" stroke="#FFF" stroke-width="1.3" fill="none"/></g>
</svg>
<div class="t" style="left:1618px;top:31px;color:#000;font-size:10px;">87.265</div><div class="t" style="left:1618px;top:64px;color:#000;font-size:10px;">86.695</div><div class="t" style="left:1618px;top:97px;color:#000;font-size:10px;">86.110</div><div class="t" style="left:1618px;top:130px;color:#000;font-size:10px;">85.525</div><div class="t" style="left:1618px;top:163px;color:#000;font-size:10px;">84.940</div><div class="t" style="left:1618px;top:196px;color:#000;font-size:10px;">84.370</div><div class="t" style="left:1618px;top:229px;color:#000;font-size:10px;">83.785</div><div class="t" style="left:1618px;top:262px;color:#000;font-size:10px;">83.200</div><div class="t" style="left:1618px;top:295px;color:#000;font-size:10px;">82.630</div><div class="t" style="left:1618px;top:328px;color:#000;font-size:10px;">82.045</div><div class="t" style="left:1618px;top:361px;color:#000;font-size:10px;">81.460</div><div class="t" style="left:1618px;top:394px;color:#000;font-size:10px;">80.875</div><div class="t" style="left:1618px;top:427px;color:#000;font-size:10px;">80.305</div><div class="t" style="left:1618px;top:460px;color:#000;font-size:10px;">79.720</div><div class="t" style="left:1618px;top:493px;color:#000;font-size:10px;">79.135</div><div class="box" style="top:431px;background:#FF0000"><span>80.198</span></div><div class="box" style="top:469px;background:#FF0000"><span>79.530</span></div><div class="box" style="top:510px;background:#FF8C00"><span>78.809</span></div><div class="box" style="top:526px;background:#000000"><span>78.546</span></div><div class="box" style="top:559px;background:#0000FF"><span>77.942</span></div><div class="box" style="top:592px;background:#0000FF"><span>77.350</span></div><div class="t" style="left:4px;top:804px;color:#000;font-size:10px;">16 Dec 2022</div><div class="t" style="left:68px;top:804px;color:#000;font-size:10px;">19 Dec 01:00</div><div class="t" style="left:132px;top:804px;color:#000;font-size:10px;">19 Dec 17:00</div><div class="t" style="left:196px;top:804px;color:#000;font-size:10px;">20 Dec 09:00</div><div class="t" style="left:260px;top:804px;color:#000;font-size:10px;">21 Dec 01:00</div><div class="t" style="left:324px;top:804px;color:#000;font-size:10px;">21 Dec 17:00</div><div class="t" style="left:388px;top:804px;color:#000;font-size:10px;">22 Dec 09:00</div><div class="t" style="left:452px;top:804px;color:#000;font-size:10px;">23 Dec 01:00</div><div class="t" style="left:516px;top:804px;color:#000;font-size:10px;">23 Dec 17:00</div><div class="t" style="left:580px;top:804px;color:#000;font-size:10px;">27 Dec 13:00</div><div class="t" style="left:644px;top:804px;color:#000;font-size:10px;">28 Dec 09:00</div><div class="t" style="left:708px;top:804px;color:#000;font-size:10px;">29 Dec 01:00</div><div class="t" style="left:772px;top:804px;color:#000;font-size:10px;">29 Dec 17:00</div><div class="t" style="left:836px;top:804px;color:#000;font-size:10px;">30 Dec 09:00</div><div class="t" style="left:900px;top:804px;color:#000;font-size:10px;">3 Jan 05:00</div><div class="t" style="left:964px;top:804px;color:#000;font-size:10px;">3 Jan 21:00</div><div class="t" style="left:1028px;top:804px;color:#000;font-size:10px;">4 Jan 13:00</div><div class="t" style="left:1092px;top:804px;color:#000;font-size:10px;">5 Jan 05:00</div><div class="t" style="left:1156px;top:804px;color:#000;font-size:10px;">5 Jan 21:00</div><div class="t" style="left:1220px;top:804px;color:#000;font-size:10px;">6 Jan 13:00</div><div class="t" style="left:1616px;top:603.5px;color:#000;font-size:10px;">1.161</div><div class="t" style="left:1616px;top:642px;color:#000;font-size:10px;">0.00</div><div class="t" style="left:1616px;top:692px;color:#000;font-size:10px;">-1.4778</div><div class="t" style="left:1616px;top:708px;color:#000;font-size:10px;">100</div><div class="t" style="left:1615.5px;top:721px;color:#000;font-size:10px;">80</div><div class="t" style="left:1615.5px;top:748px;color:#000;font-size:10px;">50</div><div class="t" style="left:1615.5px;top:781px;color:#000;font-size:10px;">15</div><div class="t" style="left:1615.5px;top:787.5px;color:#000;font-size:10px;">0</div><div class="t" style="left:9.5px;top:606px;color:#000;font-size:10px;">MACD(12,26,9) -1.0061 -1.1644</div><div class="t" style="left:9.5px;top:710px;color:#000;font-size:10px;">RSI(14) 39.9610</div><div class="t" style="left:20.5px;top:28px;color:#000;font-size:10px;">UKOil-,H4</div><div class="t" style="left:69.4px;top:28px;color:#000;font-size:10px;">78.463</div><div class="t" style="left:100.4px;top:28px;color:#000;font-size:10px;">78.565</div><div class="t" style="left:131.4px;top:28px;color:#000;font-size:10px;">78.412</div><div class="t" style="left:162.4px;top:28px;color:#000;font-size:10px;">78.546</div><div class="t" style="left:893.7px;top:5px;color:#2a2a2a;font-size:9px;letter-spacing:0;-webkit-text-stroke:0;line-height:9px;transform:scaleY(1.13);transform-origin:0 0">M1</div><div class="t" style="left:921px;top:5px;color:#2a2a2a;font-size:9px;letter-spacing:0;-webkit-text-stroke:0;line-height:9px;transform:scaleY(1.13);transform-origin:0 0">M5</div><div class="t" style="left:947.6px;top:5px;color:#2a2a2a;font-size:9px;letter-spacing:0;-webkit-text-stroke:0;line-height:9px;transform:scaleY(1.13);transform-origin:0 0">M15</div><div class="t" style="left:975px;top:5px;color:#2a2a2a;font-size:9px;letter-spacing:0;-webkit-text-stroke:0;line-height:9px;transform:scaleY(1.13);transform-origin:0 0">M30</div><div class="t" style="left:1006.8px;top:5px;color:#2a2a2a;font-size:9px;letter-spacing:0;-webkit-text-stroke:0;line-height:9px;transform:scaleY(1.13);transform-origin:0 0">H1</div><div class="t" style="left:1033.5px;top:5px;color:#2a2a2a;font-size:9px;letter-spacing:0;-webkit-text-stroke:0;line-height:9px;transform:scaleY(1.13);transform-origin:0 0">H4</div><div class="t" style="left:1062.5px;top:5px;color:#2a2a2a;font-size:9px;letter-spacing:0;-webkit-text-stroke:0;line-height:9px;transform:scaleY(1.13);transform-origin:0 0">D1</div><div class="t" style="left:1090.2px;top:5px;color:#2a2a2a;font-size:9px;letter-spacing:0;-webkit-text-stroke:0;line-height:9px;transform:scaleY(1.13);transform-origin:0 0">W1</div><div class="t" style="left:1116.5px;top:5px;color:#2a2a2a;font-size:9px;letter-spacing:0;-webkit-text-stroke:0;line-height:9px;transform:scaleY(1.13);transform-origin:0 0">MN</div>
</div></body></html>
